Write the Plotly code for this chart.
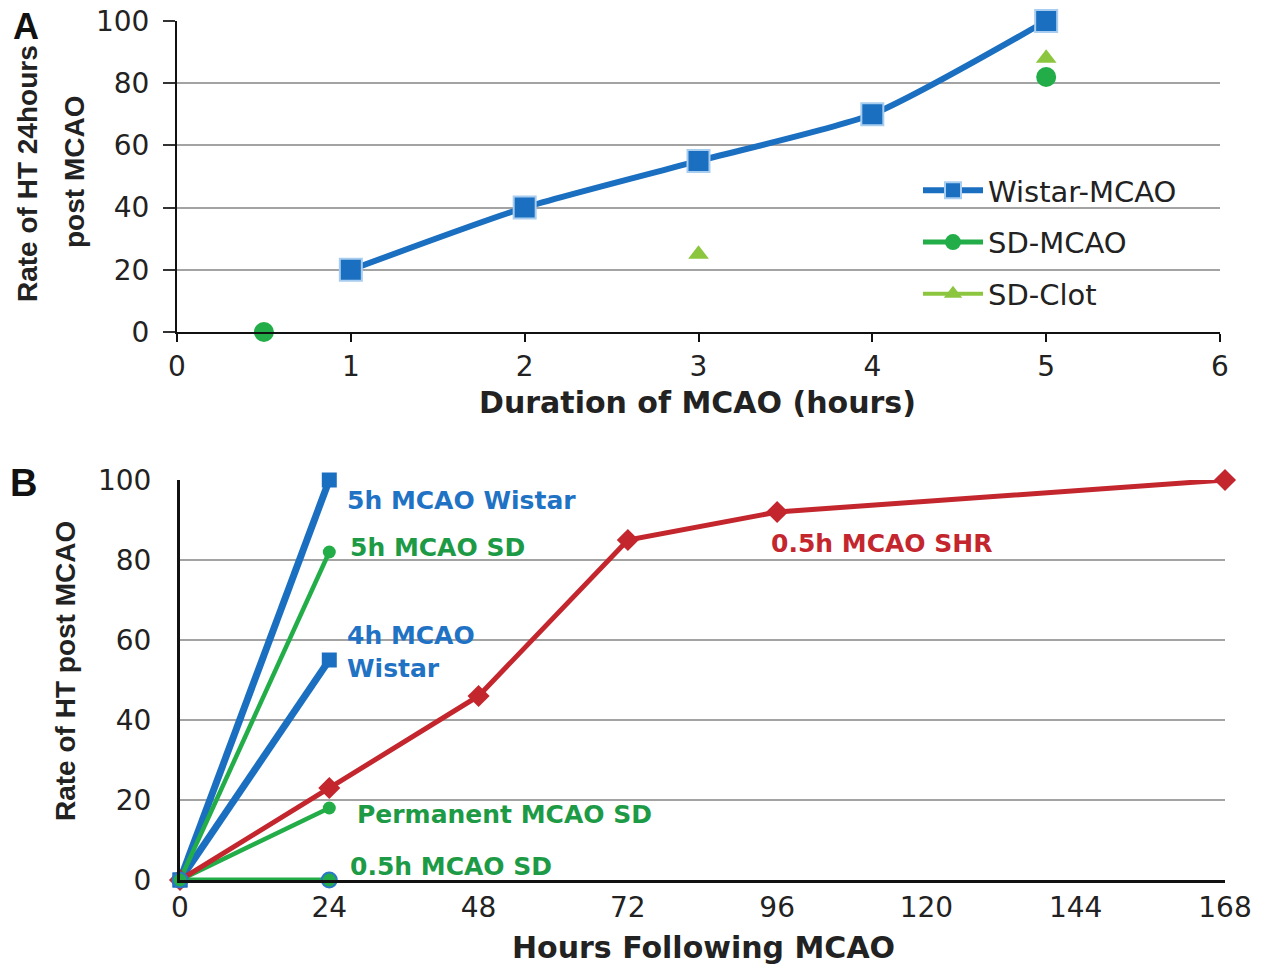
import plotly.graph_objects as go

# ---------------- Panel A data ----------------
a_wistar_x = [1, 2, 3, 4, 5]
a_wistar_y = [20, 40, 55, 70, 100]
a_sdmcao_x = [0.5, None, 5]
a_sdmcao_y = [0, None, 82]
a_sdclot_x = [3, None, 5]
a_sdclot_y = [25, None, 88]
a_xticks = [0, 1, 2, 3, 4, 5, 6]
a_yticks = [0, 20, 40, 60, 80, 100]

# ---------------- Panel B data ----------------
b_x_short = [0, 24]
b_wistar5_y = [0, 100]
b_sd5_y = [0, 82]
b_wistar4_y = [0, 55]
b_perm_y = [0, 18]
b_sd05_y = [0, 0]
b_shr_x = [0, 24, 48, 72, 96, 168]
b_shr_y = [0, 23, 46, 85, 92, 100]
b_xticks = [0, 24, 48, 72, 96, 120, 144, 168]
b_yticks = [0, 20, 40, 60, 80, 100]

BLUE = "#1b6fc0"
GREEN = "#22ad48"
LGREEN = "#8cc63f"
RED = "#c4262e"
GREEN_TXT = "#1d9a45"
BLUE_TXT = "#1f72c4"
GRID = "#a3a3a3"

W, H = 1266, 966
def px(x):
    return x / W
def py(y):
    return 1 - y / H

TICKFONT = dict(family="DejaVu Sans", size=28, color="#222222")
BOLD = "DejaVu Sans"

fig = go.Figure()

# Panel A traces
fig.add_trace(go.Scatter(
    x=a_wistar_x, y=a_wistar_y, mode="lines+markers", name="Wistar-MCAO",
    line=dict(color=BLUE, width=6, shape="spline", smoothing=0.6),
    marker=dict(symbol="square", size=22, color=BLUE, line=dict(color="#a9cdee", width=2)),
    xaxis="x", yaxis="y", cliponaxis=False, legendgroup="a1"))
fig.add_trace(go.Scatter(
    x=a_sdmcao_x, y=a_sdmcao_y, mode="lines+markers", name="SD-MCAO",
    line=dict(color=GREEN, width=5), connectgaps=False,
    marker=dict(symbol="circle", size=20, color=GREEN),
    xaxis="x", yaxis="y", cliponaxis=False, legendgroup="a2"))
fig.add_trace(go.Scatter(
    x=a_sdclot_x, y=a_sdclot_y, mode="lines+markers", name="SD-Clot",
    line=dict(color=LGREEN, width=4), connectgaps=False,
    marker=dict(symbol="triangle-up", size=18, color=LGREEN),
    xaxis="x", yaxis="y", cliponaxis=False, legendgroup="a3"))

# Panel B traces
fig.add_trace(go.Scatter(
    x=b_x_short, y=b_wistar5_y, mode="lines+markers", name="5h MCAO Wistar",
    line=dict(color=BLUE, width=7), marker=dict(symbol="square", size=15, color=BLUE),
    xaxis="x2", yaxis="y2", cliponaxis=False, showlegend=False))
fig.add_trace(go.Scatter(
    x=b_x_short, y=b_wistar4_y, mode="lines+markers", name="4h MCAO Wistar",
    line=dict(color=BLUE, width=7), marker=dict(symbol="square", size=15, color=BLUE),
    xaxis="x2", yaxis="y2", cliponaxis=False, showlegend=False))
fig.add_trace(go.Scatter(
    x=b_x_short, y=b_sd5_y, mode="lines+markers", name="5h MCAO SD",
    line=dict(color=GREEN, width=4.5), marker=dict(symbol="circle", size=13, color=GREEN),
    xaxis="x2", yaxis="y2", cliponaxis=False, showlegend=False))
fig.add_trace(go.Scatter(
    x=b_x_short, y=b_perm_y, mode="lines+markers", name="Permanent MCAO SD",
    line=dict(color=GREEN, width=4.5), marker=dict(symbol="circle", size=13, color=GREEN),
    xaxis="x2", yaxis="y2", cliponaxis=False, showlegend=False))
fig.add_trace(go.Scatter(
    x=b_shr_x, y=b_shr_y, mode="lines+markers", name="0.5h MCAO SHR",
    line=dict(color=RED, width=5), marker=dict(symbol="diamond", size=17, color=RED),
    xaxis="x2", yaxis="y2", cliponaxis=False, showlegend=False))
fig.add_trace(go.Scatter(
    x=b_x_short, y=b_sd05_y, mode="lines+markers", name="0.5h MCAO SD",
    line=dict(color=GREEN, width=5),
    marker=dict(symbol="circle", size=15, color=GREEN, line=dict(color="#2a78c8", width=2)),
    xaxis="x2", yaxis="y2", cliponaxis=False, showlegend=False))

annotations = []
# Panel letters
annotations.append(dict(text="<b>A</b>", x=px(11), y=py(4), xref="paper", yref="paper",
                        xanchor="left", yanchor="top", showarrow=False,
                        font=dict(family="Liberation Sans", size=36, color="#111")))
annotations.append(dict(text="<b>B</b>", x=px(8), y=py(460), xref="paper", yref="paper",
                        xanchor="left", yanchor="top", showarrow=False,
                        font=dict(family="Liberation Sans", size=38, color="#111")))
# Axis titles
annotations.append(dict(text="<b>Duration of MCAO (hours)</b>", x=px(697), y=py(403),
                        xref="paper", yref="paper", xanchor="center", yanchor="middle",
                        showarrow=False, font=dict(family=BOLD, size=30, color="#222")))
annotations.append(dict(text="<b>Hours Following MCAO</b>", x=px(703), y=py(947),
                        xref="paper", yref="paper", xanchor="center", yanchor="middle",
                        showarrow=False, font=dict(family=BOLD, size=30, color="#222")))
YT = dict(family="Liberation Sans", size=28, color="#222")
annotations.append(dict(text="<b>Rate of HT 24hours</b>", x=px(27), y=py(174),
                        xref="paper", yref="paper", xanchor="center", yanchor="middle",
                        showarrow=False, textangle=-90, font=YT))
annotations.append(dict(text="<b>post MCAO</b>", x=px(75), y=py(172),
                        xref="paper", yref="paper", xanchor="center", yanchor="middle",
                        showarrow=False, textangle=-90, font=YT))
annotations.append(dict(text="<b>Rate of HT post MCAO</b>", x=px(65), y=py(671),
                        xref="paper", yref="paper", xanchor="center", yanchor="middle",
                        showarrow=False, textangle=-90, font=YT))

# Series labels in panel B, anchored to data points
LBL = dict(family=BOLD, size=25)
def lbl(text, x, y, xs, ys, color):
    annotations.append(dict(text="<b>" + text + "</b>", x=x, y=y, xref="x2", yref="y2",
                            xanchor="left", yanchor="middle", xshift=xs, yshift=ys,
                            showarrow=False, align="left", font=dict(color=color, **LBL)))

lbl("5h MCAO Wistar", b_x_short[-1], b_wistar5_y[-1], 16, -20, BLUE_TXT)
lbl("5h MCAO SD", b_x_short[-1], b_sd5_y[-1], 19, 5, GREEN_TXT)
lbl("4h MCAO<br>Wistar", b_x_short[-1], b_wistar4_y[-1], 16, 8, BLUE_TXT)
lbl("Permanent MCAO SD", b_x_short[-1], b_perm_y[-1], 26, -6, GREEN_TXT)
lbl("0.5h MCAO SD", b_x_short[-1], b_sd05_y[-1], 19, 14, GREEN_TXT)
lbl("0.5h MCAO SHR", b_shr_x[4], b_shr_y[4], -8, -31, RED)

fig.update_layout(
    width=W, height=H,
    margin=dict(l=0, r=0, t=0, b=0, autoexpand=False),
    paper_bgcolor="white", plot_bgcolor="white",
    showlegend=True,
    legend=dict(x=px(918), y=py(165), xanchor="left", yanchor="top",
                bgcolor="rgba(0,0,0,0)", font=dict(family="DejaVu Sans", size=29, color="#222"),
                itemwidth=60, tracegroupgap=11, traceorder="grouped"),
    xaxis=dict(domain=[px(177), px(1220)], anchor="y", range=[0, 6], automargin=False,
               tickvals=a_xticks, showgrid=False, zeroline=False,
               showline=True, linecolor="#111", linewidth=2,
               ticks="outside", ticklen=8, tickcolor="#111", tickwidth=2,
               ticklabeloverflow="allow", tickfont=TICKFONT),
    yaxis=dict(domain=[py(332), py(21)], anchor="x", range=[0, 100], automargin=False,
               tickvals=a_yticks, showgrid=True, gridcolor=GRID, gridwidth=1.5,
               zeroline=False, showline=True, linecolor="#111", linewidth=2,
               ticks="outside", ticklen=12, tickcolor="#333", tickwidth=1.5,
               ticklabelstandoff=8, ticklabeloverflow="allow", tickfont=TICKFONT),
    xaxis2=dict(domain=[px(180), px(1225)], anchor="y2", range=[0, 168], automargin=False,
                tickvals=b_xticks, showgrid=False, zeroline=False,
                showline=True, linecolor="#111", linewidth=3, ticks="",
                ticklabeloverflow="allow", tickfont=TICKFONT),
    yaxis2=dict(domain=[py(880), py(480)], anchor="x2", range=[0, 100], automargin=False,
                tickvals=b_yticks, showgrid=True, gridcolor=GRID, gridwidth=1.5,
                zeroline=False, showline=True, linecolor="#111", linewidth=3, ticks="",
                ticklabelstandoff=20, ticklabeloverflow="allow", tickfont=TICKFONT),
    annotations=annotations,
)

# remove the browser's default 8px body margin so the figure fills the window
fig.write_html("out.html", config={"displayModeBar": False},
               post_script="document.body.style.margin='0px';")
